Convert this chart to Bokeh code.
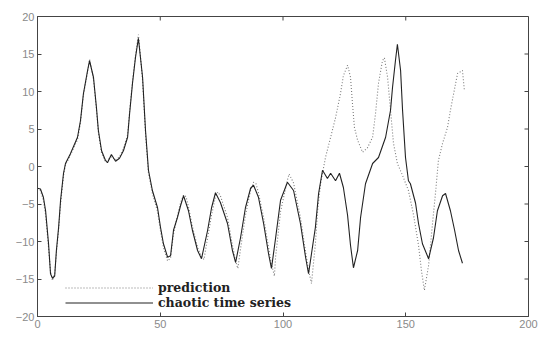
import math

from bokeh.plotting import figure
from bokeh.models import LinearAxis, Range1d, FixedTicker, Legend, LegendItem
from bokeh.embed import file_html
from bokeh.resources import INLINE

# chaotic time series (observed)
series_x = [0, 1.2, 2.4, 3.3, 4.5, 5.3, 6.1, 7.0, 7.7, 8.6, 9.4, 10.6, 11.4, 13.4, 16.3,
            17.5, 18.7, 20.4, 21.2, 22.8, 24.0, 24.8, 26.1, 27.7, 28.5, 30.1, 31.8, 33.4,
            35.0, 36.7, 37.5, 38.7, 39.9, 41.1, 42.8, 44.0, 45.2, 46.8, 48.9, 50.1, 51.3,
            53.0, 54.2, 55.4, 57.0, 58.3, 59.5, 61.5, 63.1, 65.2, 66.8, 69.3, 70.9, 72.5,
            74.5, 77.4, 79.4, 80.7, 82.7, 84.7, 86.8, 88.0, 90.0, 92.1, 94.1, 95.3, 97.0,
            99.0, 101.8, 104.3, 107.1, 109.2, 110.4, 113.2, 114.5, 116.1, 118.1, 119.4,
            121.4, 123.0, 124.6, 126.3, 127.5, 128.7, 130.4, 131.6, 133.6, 136.5, 138.9,
            141.8, 143.8, 144.6, 145.8, 146.6, 147.9, 148.7, 149.9, 151.1, 151.9, 154.0,
            155.2, 156.8, 159.3, 161.3, 162.9, 165.0, 166.2, 168.2, 169.9, 171.5, 173.1]
series_y = [-2.9, -3.0, -4.1, -5.9, -10.3, -14.3, -14.9, -14.6, -11.2, -8.1, -4.5, -0.9, 0.4,
            1.7, 3.9, 6.1, 9.7, 12.8, 14.1, 11.9, 7.9, 4.8, 2.1, 0.8, 0.5, 1.6, 0.7, 1.1,
            2.1, 3.9, 7.0, 11.1, 14.5, 17.1, 11.9, 4.8, -0.5, -3.2, -5.5, -8.1, -10.3,
            -12.1, -11.9, -8.5, -6.8, -5.2, -3.9, -5.9, -8.5, -11.2, -12.3, -8.5, -5.5, -3.5,
            -4.8, -7.6, -11.2, -12.8, -9.5, -5.5, -2.9, -2.5, -4.1, -7.6, -11.6, -13.6, -9.5,
            -4.5, -2.1, -3.2, -7.6, -12.1, -14.3, -8.1, -3.6, -0.5, -1.6, -0.9,
            -1.9, -0.9, -2.8, -6.5, -10.5, -13.5, -11.2, -6.8, -2.3, 0.4, 1.2,
            3.9, 7.5, 10.5, 14.1, 16.3, 12.8, 7.5, 1.2, -1.9, -2.3, -4.9,
            -7.6, -10.3, -12.3, -9.5, -5.9, -3.9, -3.6, -5.9, -8.5, -11.2, -12.9]

# model prediction
pred_x = [0, 1.2, 2.4, 3.3, 4.5, 5.3, 6.1, 7.0, 7.7, 8.6, 9.4, 10.6, 11.4, 13.4, 16.3,
          17.5, 18.7, 20.4, 21.2, 22.8, 24.0, 24.8, 26.1, 27.7, 28.5, 30.1, 31.8, 33.4,
          35.0, 36.7, 37.5, 38.7, 39.9, 41.1, 42.8, 44.0, 45.2, 46.8, 48.9, 50.1, 51.3,
          53.0, 54.2, 55.4, 57.0, 58.3, 59.5, 60.5, 61.5, 63.1, 65.2, 66.8, 67.8, 69.3,
          70.9, 72.5, 73.5, 74.5, 77.4, 79.4, 80.7, 81.6, 82.7, 84.7, 86.8, 88.0, 89.0,
          90.0, 92.1, 94.1, 95.3, 96.5, 97.0, 99.0, 101.8, 102.5, 104.3, 107.1, 109.2,
          110.4, 111.6, 113.2, 114.1, 115.3, 117.3, 119.4, 121.4, 123.4, 124.6, 126.3,
          127.5, 128.3, 129.1, 130.4, 132.4, 134.4, 136.5, 137.7, 138.9, 140.5, 141.3,
          142.6, 143.8, 145.0, 146.6, 148.7, 151.1, 153.2, 155.2, 156.4, 157.6, 159.3,
          160.9, 162.1, 163.3, 165.0, 167.0, 168.2, 169.5, 171.1, 173.1, 173.9]
pred_y = [-2.9, -3.2, -4.5, -6.5, -10.8, -14.0, -15.2, -14.3, -11.5, -8.5, -5.0, -1.2, 0.2,
          1.5, 3.6, 5.8, 9.5, 12.6, 14.3, 11.6, 7.6, 4.5, 1.8, 0.6, 0.8, 1.3, 0.9, 1.3,
          2.4, 4.2, 7.3, 11.4, 14.8, 17.6, 11.5, 4.4, -0.9, -3.6, -6.0, -8.6, -10.8,
          -12.6, -12.2, -9.0, -6.6, -4.8, -3.8, -4.0, -5.4, -8.0, -10.8, -12.0, -12.4, -9.5,
          -6.5, -4.0, -3.4, -3.9, -6.8, -10.5, -12.6, -13.6, -11.0, -6.5, -3.2, -2.1, -2.3,
          -3.5, -6.8, -10.8, -13.0, -14.6, -12.0, -6.0, -1.8, -1.0, -2.2, -6.8, -11.4,
          -13.8, -15.6, -10.3, -5.9, -2.3, 1.2, 3.9, 6.5, 9.7, 12.1, 13.5,
          11.9, 8.4, 5.2, 3.5, 1.9, 2.5, 3.9, 7.1, 11.1, 14.1, 14.5,
          11.9, 7.5, 3.1, 0.4, -1.2, -3.2, -6.5, -10.5, -13.9, -16.5, -13.2,
          -7.6, -3.6, 0.8, 3.1, 5.2, 7.5, 9.7, 12.4, 12.8, 10.1]

x_ticks = [0, 50, 100, 150, 200]
y_ticks = [-20, -15, -10, -5, 0, 5, 10, 15, 20]
x_min, x_max = 0, 200
y_min, y_max = -20, 20

AXIS_COLOR = "#444444"

p = figure(width=540, height=337, output_backend="svg", toolbar_location=None,
           x_range=Range1d(x_min, x_max), y_range=Range1d(y_min, y_max),
           min_border_left=37, min_border_right=12, min_border_top=16, min_border_bottom=21,
           x_axis_type=None, y_axis_type=None)
p.background_fill_color = "white"
p.border_fill_color = "white"
p.outline_line_color = AXIS_COLOR
p.outline_line_width = 1
p.xgrid.visible = False
p.ygrid.visible = False


def styled_axis(ticks):
    ax = LinearAxis(ticker=FixedTicker(ticks=ticks))
    ax.axis_line_color = AXIS_COLOR
    ax.major_tick_line_color = AXIS_COLOR
    ax.major_tick_in = 4
    ax.major_tick_out = 0
    ax.minor_tick_line_color = None
    ax.major_label_text_font = "Liberation Sans"
    ax.major_label_text_font_size = "11px"
    ax.major_label_text_color = "#8a8a8a"
    ax.major_label_standoff = 3
    return ax


p.add_layout(styled_axis(x_ticks), "below")
p.add_layout(styled_axis(y_ticks), "left")

# inward tick marks on the top and right edges of the box
p.ray(x=x_ticks, y=[y_max] * len(x_ticks), length=4, length_units="screen",
      angle=-math.pi / 2, line_color=AXIS_COLOR, line_width=1)
p.ray(x=[x_max] * len(y_ticks), y=y_ticks, length=4, length_units="screen",
      angle=math.pi, line_color=AXIS_COLOR, line_width=1)

r_pred = p.line(pred_x, pred_y, line_color="#7a7a7a", line_width=1.1, line_dash="1 2")
r_series = p.line(series_x, series_y, line_color="#222222", line_width=1.1)

legend = Legend(items=[LegendItem(label="prediction", renderers=[r_pred]),
                       LegendItem(label="chaotic time series", renderers=[r_series])],
                location=(28, 6))
legend.background_fill_alpha = 0
legend.border_line_color = None
legend.padding = 0
legend.margin = 0
legend.spacing = 0
legend.glyph_width = 88
legend.glyph_height = 13
legend.label_height = 13
legend.label_standoff = 5
legend.label_text_font = "DejaVu Serif"
legend.label_text_font_size = "12.5px"
legend.label_text_font_style = "bold"
legend.label_text_color = "#222222"
p.add_layout(legend, "center")

open("out.html", "w").write(file_html(p, INLINE))
